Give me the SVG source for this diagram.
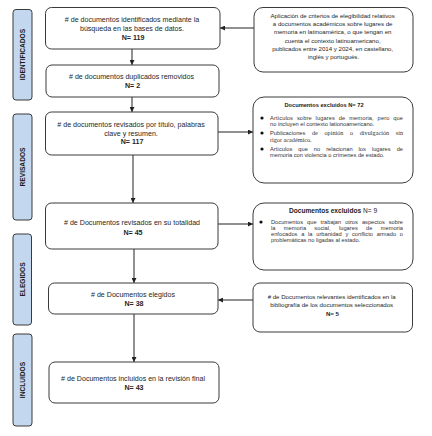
<svg xmlns="http://www.w3.org/2000/svg" width="432" height="436" viewBox="0 0 432 436">
<style>
.bar{fill:#c3d7ee;stroke:#3a3a3a;stroke-width:1}
.box{fill:#fff;stroke:#3a3a3a;stroke-width:1}
.lbl{font-family:"Liberation Sans",Arial,sans-serif;font-weight:bold;font-size:6.6px;fill:#1a1a1a;text-anchor:middle}
.t{font-family:"Liberation Sans",Arial,sans-serif;font-size:7.1px;fill:#262626;text-anchor:middle}
.b{font-weight:bold}
.s{font-family:"Liberation Sans",Arial,sans-serif;font-size:6.1px;fill:#262626;text-anchor:middle}
.j{font-family:"Liberation Sans",Arial,sans-serif;font-size:5.7px;fill:#333}
.sf{font-family:"Liberation Serif","Times New Roman",serif}
.ln{stroke:#222;stroke-width:1;fill:none;marker-end:url(#ah)}
</style>
<defs>
<marker id="ah" viewBox="0 0 10 10" refX="10" refY="5" markerWidth="5" markerHeight="5" orient="auto" markerUnits="userSpaceOnUse"><path d="M0,0 L10,5 L0,10 z" fill="#222"/></marker>
</defs>
<rect width="432" height="436" fill="#fff"/>

<g id="phase-identificados"><rect class="bar" x="13" y="9.5" width="19" height="90.5" rx="3"/><text class="lbl" transform="translate(24.8,54.5) rotate(-90)">IDENTIFICADOS</text></g>
<g id="phase-revisados"><rect class="bar" x="13" y="114" width="19" height="106" rx="3"/><text class="lbl" transform="translate(24.8,167) rotate(-90)">REVISADOS</text></g>
<g id="phase-elegidos"><rect class="bar" x="13" y="234" width="18.5" height="91" rx="3"/><text class="lbl" transform="translate(24.6,279.5) rotate(-90)">ELEGIDOS</text></g>
<g id="phase-incluidos"><rect class="bar" x="13" y="334" width="19" height="92" rx="3"/><text class="lbl" transform="translate(24.8,380) rotate(-90)">INCLUIDOS</text></g>

<g id="connectors">
<line class="ln" x1="132" y1="49" x2="132" y2="65"/>
<line class="ln" x1="132" y1="97" x2="132" y2="112"/>
<line class="ln" x1="133" y1="155" x2="133" y2="203"/>
<line class="ln" x1="134" y1="249" x2="134" y2="283"/>
<line class="ln" x1="134" y1="314" x2="134" y2="362"/>
<line class="ln" x1="254" y1="28" x2="220" y2="28"/>
<line class="ln" x1="218" y1="132" x2="253" y2="132"/>
<line class="ln" x1="218" y1="224" x2="253" y2="224"/>
<line class="ln" x1="253" y1="300" x2="218" y2="300"/>
</g>

<g id="n1"><rect class="box" x="45.5" y="7.5" width="174.5" height="41.5" rx="6"/>
<text class="t" x="133" y="21.5">
<tspan x="133"># de documentos identificados mediante la</tspan>
<tspan x="133" dy="9">búsqueda en las bases de datos.</tspan>
<tspan x="133" dy="9" class="b">N= 119</tspan></text></g>

<g id="n2"><rect class="box" x="46" y="65" width="173" height="32" rx="6"/>
<text class="t" x="132.5" y="78.5">
<tspan x="132.5"># de documentos duplicados removidos</tspan>
<tspan x="132.5" dy="9" class="b">N= 2</tspan></text></g>

<g id="n3"><rect class="box" x="45.5" y="112" width="172.5" height="43" rx="6"/>
<text class="t" x="132" y="127">
<tspan x="132"># de documentos revisados por título, palabras</tspan>
<tspan x="132" dy="8.7">clave y resumen.</tspan>
<tspan x="132" dy="8.7" class="b">N= 117</tspan></text></g>

<g id="n4"><rect class="box" x="45.5" y="203" width="172.5" height="46" rx="6"/>
<text class="t" x="133" y="224.5">
<tspan x="133"># de Documentos revisados en su totalidad</tspan>
<tspan x="133" dy="10" class="b">N= 45</tspan></text></g>

<g id="n5"><rect class="box" x="48.5" y="283" width="169.5" height="31" rx="6"/>
<text class="t" x="134" y="296.5">
<tspan x="134"># de Documentos elegidos</tspan>
<tspan x="134" dy="9" class="b">N= 38</tspan></text></g>

<g id="n6"><rect class="box" x="49" y="362" width="170" height="41" rx="6"/>
<text class="t" x="134" y="381">
<tspan x="134"># de Documentos incluidos en la revisión final</tspan>
<tspan x="134" dy="8.7" class="b">N= 43</tspan></text></g>

<g id="criteria"><rect class="box" x="254" y="7.5" width="159" height="64.5" rx="9"/>
<text class="s" x="333.5" y="17.8">
<tspan x="333.5">Aplicación de criterios de elegibilidad relativos</tspan>
<tspan x="333.5" dy="8.3">a documentos académicos sobre lugares de</tspan>
<tspan x="333.5" dy="8.3">memoria en latinoamérica, o que tengan en</tspan>
<tspan x="333.5" dy="8.3">cuenta el contexto latinoamericano,</tspan>
<tspan x="333.5" dy="8.3">publicados entre 2014 y 2024, en castellano,</tspan>
<tspan x="333.5" dy="8.3">inglés y portugués.</tspan></text></g>

<g id="excl72"><rect class="box" x="253" y="97" width="160" height="86" rx="11"/>
<text class="j b" x="324" y="107" text-anchor="middle" style="fill:#1a1a1a">Documentos excluidos N= 72</text>
<circle cx="262" cy="118" r="1.6" fill="#111"/>
<circle cx="262" cy="133" r="1.6" fill="#111"/>
<circle cx="262" cy="149" r="1.6" fill="#111"/>
<text class="j" x="270" y="120" word-spacing="2.2" textLength="133" lengthAdjust="spacing">Artículos sobre lugares de memoria, pero que</text>
<text class="j" x="270" y="126.3">no incluyen el contexto lationoamericano.</text>
<text class="j" x="270" y="135" word-spacing="5" textLength="133" lengthAdjust="spacing">Publicaciones <tspan class="sf" style="font-size:6.2px">de opinión o divulgación sin</tspan></text>
<text class="j sf" x="270" y="141.5" style="font-size:6.2px">rigor académico.</text>
<text class="j" x="270" y="151" word-spacing="4.4" textLength="133" lengthAdjust="spacing">Artículos que no relacionan los lugares de</text>
<text class="j" x="270" y="157.3">memoria con violencia o crímenes de estado.</text></g>

<g id="excl9"><rect class="box" x="253" y="203" width="160" height="67" rx="11"/>
<text class="j" x="333" y="213.3" text-anchor="middle" style="font-size:6.6px;fill:#1a1a1a"><tspan class="b">Documentos excluidos</tspan> N= 9</text>
<circle cx="261" cy="222" r="1.6" fill="#111"/>
<text class="j" x="271" y="224" word-spacing="2.4" textLength="132" lengthAdjust="spacing">Documentos que trabajan otros aspectos sobre</text>
<text class="j" x="271" y="230" word-spacing="6.7" textLength="132" lengthAdjust="spacing">la memoria social, lugares de memoria</text>
<text class="j" x="271" y="236" word-spacing="2.1" textLength="132" lengthAdjust="spacing">enfocados a la urbanidad y conflicto armado o</text>
<text class="j" x="271" y="242">problemáticas no ligadas al estado.</text></g>

<g id="relevantes"><rect class="box" x="253" y="283" width="159.5" height="49" rx="7"/>
<text class="s" x="332.5" y="299">
<tspan x="332.5"># de Documentos relevantes identificados en la</tspan>
<tspan x="332.5" dy="8.3">bibliografía de los documentos seleccionados</tspan>
<tspan x="332.5" dy="8.3" class="b">N= 5</tspan></text></g>
</svg>
